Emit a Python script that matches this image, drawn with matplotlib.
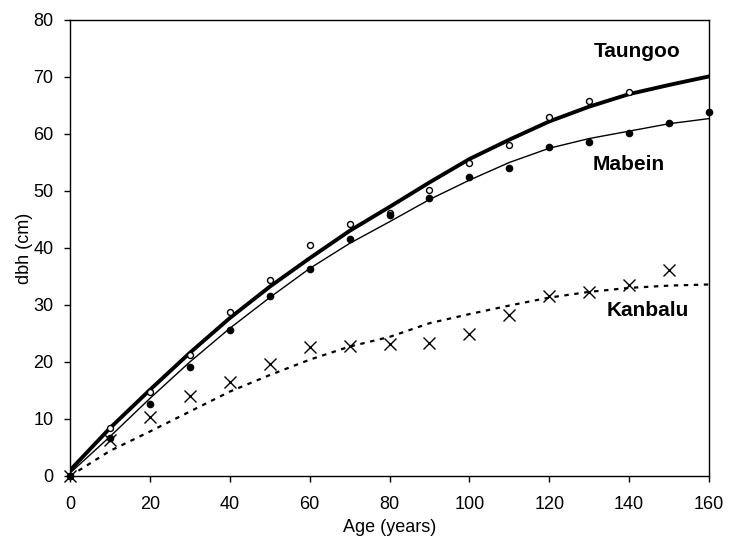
import matplotlib
matplotlib.use("Agg")
import matplotlib.pyplot as plt

plt.rcParams['font.family'] = ['Liberation Sans', 'DejaVu Sans']

# Observed data
age_t = [0, 10, 20, 30, 40, 50, 60, 70, 80, 90, 100, 110, 120, 130, 140]
dbh_t = [0, 8.4, 14.8, 21.3, 28.7, 34.4, 40.6, 44.2, 46.1, 50.2, 54.9, 58.1, 62.9, 65.7, 67.4]

age_m = [0, 10, 20, 30, 40, 50, 60, 70, 80, 90, 100, 110, 120, 130, 140, 150, 160]
dbh_m = [0, 6.6, 12.6, 19.2, 25.7, 31.5, 36.3, 41.5, 45.8, 48.8, 52.4, 54.0, 57.8, 58.6, 60.2, 61.9, 63.8]

age_k = [0, 10, 20, 30, 40, 50, 60, 70, 80, 90, 100, 110, 120, 130, 140, 150]
dbh_k = [0, 6.3, 10.4, 14.1, 16.5, 19.6, 22.6, 22.8, 23.1, 23.3, 24.9, 28.2, 31.5, 32.3, 33.5, 36.1]

# Fitted curves
age_fit = [0, 10, 20, 30, 40, 50, 60, 70, 80, 90, 100, 110, 120, 130, 140, 150, 160]
fit_t = [1.0, 8.4, 15.1, 21.6, 27.7, 33.2, 38.2, 43.0, 47.2, 51.5, 55.6, 59.0, 62.2, 64.8, 67.0, 68.6, 70.1]
fit_m = [0.5, 6.9, 13.6, 20.0, 25.9, 31.3, 36.4, 40.8, 44.6, 48.5, 51.9, 55.0, 57.5, 59.2, 60.5, 61.8, 62.7]
fit_k = [0, 4.4, 7.8, 11.3, 14.8, 17.7, 20.4, 22.7, 24.4, 26.8, 28.4, 29.9, 31.3, 32.3, 33.0, 33.4, 33.6]

fig = plt.figure(figsize=(7.29, 5.37), dpi=100)
ax = fig.add_axes([0.096, 0.1136, 0.8766, 0.8492])

ax.plot(age_fit, fit_t, color='black', lw=2.8, solid_capstyle='round')
ax.plot(age_fit, fit_m, color='black', lw=1.0)
ax.plot(age_fit, fit_k, color='black', lw=1.6, linestyle=(0, (2, 2.5)))

ax.plot(age_t, dbh_t, linestyle='none', marker='o', ms=4.3, mfc='white', mec='black', mew=1.0, clip_on=False)
ax.plot(age_m, dbh_m, linestyle='none', marker='o', ms=4.5, mfc='black', mec='black', clip_on=False)
ax.plot(age_k, dbh_k, linestyle='none', marker='x', ms=9, mec='black', mew=1.0, clip_on=False)

ax.set_xlim(0, 160)
ax.set_ylim(0, 80)
ax.set_xticks(range(0, 161, 20))
ax.set_yticks(range(0, 81, 10))
ax.tick_params(direction='out', length=4.3, width=1, labelsize=13)
ax.tick_params(axis='x', pad=10)
ax.tick_params(axis='y', pad=7.5)
for s in ax.spines.values():
    s.set_linewidth(1.0)

ax.set_xlabel('Age (years)', fontsize=13, labelpad=4.5)
ax.set_ylabel('dbh (cm)', fontsize=13, labelpad=0)

ax.text(142, 74.4, 'Taungoo', fontsize=15, fontweight='bold', ha='center', va='center')
ax.text(140, 54.7, 'Mabein', fontsize=15, fontweight='bold', ha='center', va='center')
ax.text(144.6, 29.0, 'Kanbalu', fontsize=15, fontweight='bold', ha='center', va='center')

fig.savefig('out.png', dpi=100)
